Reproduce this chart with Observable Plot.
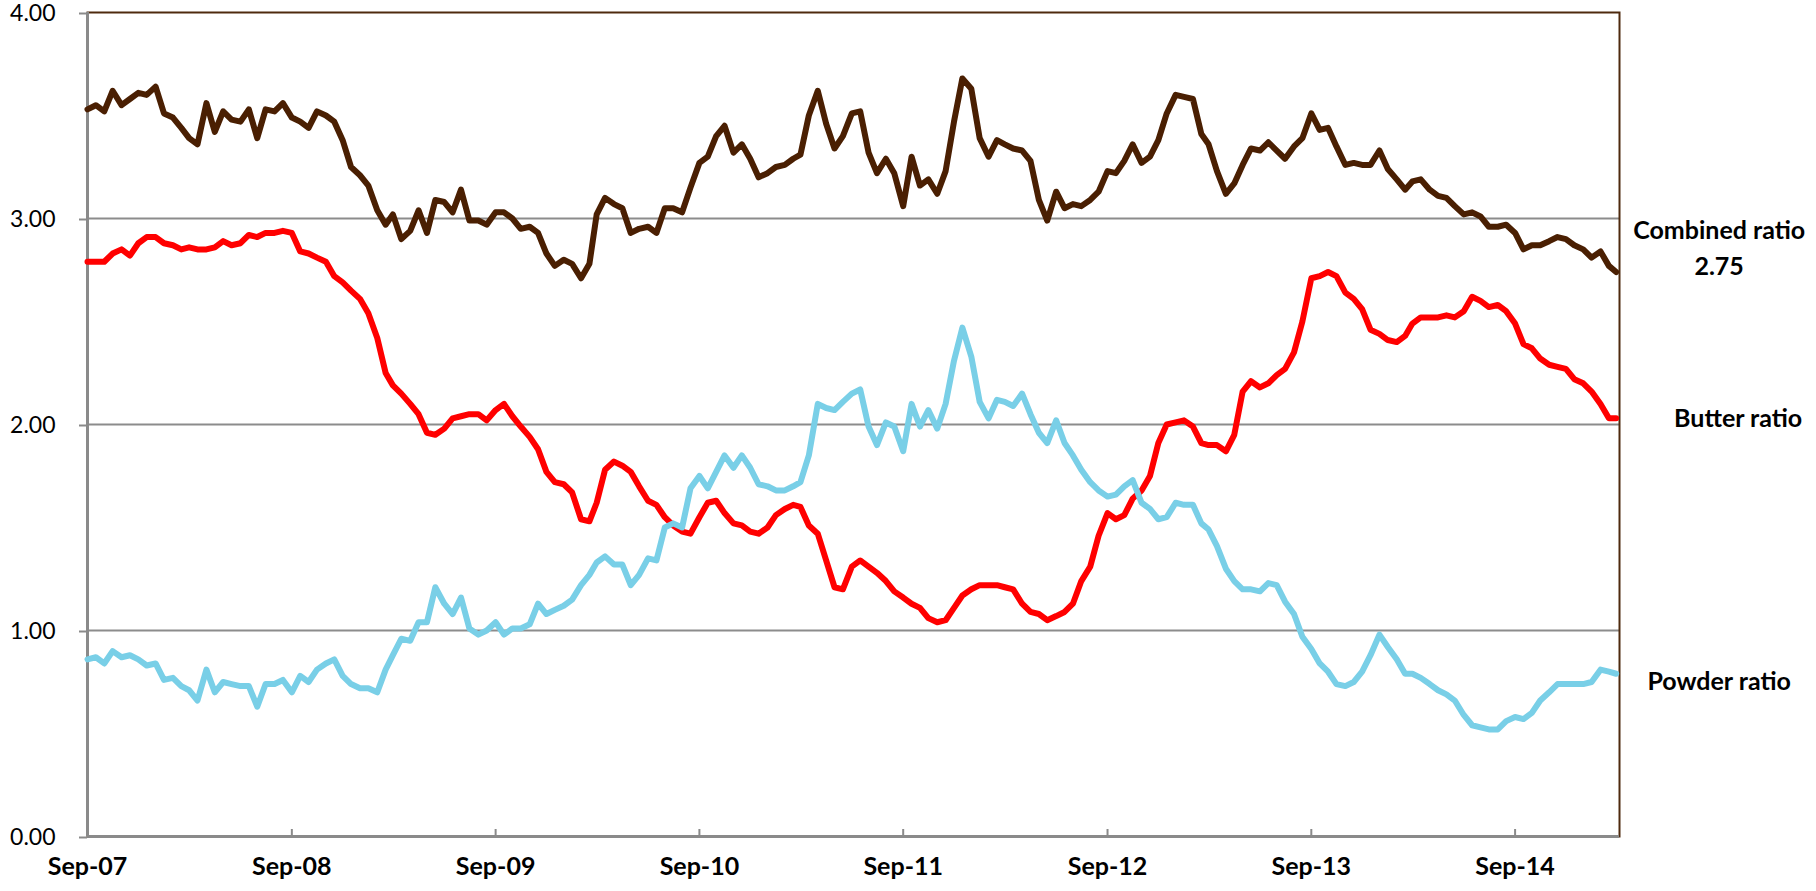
<!DOCTYPE html>
<html>
<head>
<meta charset="utf-8">
<script src="https://cdn.jsdelivr.net/npm/d3@7"></script>
<script src="https://cdn.jsdelivr.net/npm/@observablehq/plot@0.6"></script>
<style>
  html, body { margin: 0; padding: 0; background: #fff; }
  svg { display: block; }
</style>
</head>
<body>
<div id="chart"></div>
<script>
// ---- Data (half-monthly readings, starting 1 Sep 2007) ----
const seriesNames = ["Combined ratio", "Butter ratio", "Powder ratio"];
const endLabels = ["Combined ratio\n2.75", "Butter ratio", "Powder ratio"];
const yTickValues = [0, 1, 2, 3, 4];
const tickYears = [2007, 2008, 2009, 2010, 2011, 2012, 2013, 2014];

const combined = [
  3.53,3.55,3.52,3.62,3.55,3.58,3.61,3.60,3.64,3.51,3.49,3.44,3.39,3.36,3.56,3.42,3.52,3.48,3.47,3.53,3.39,3.53,3.52,3.56,
  3.49,3.47,3.44,3.52,3.50,3.47,3.38,3.25,3.21,3.16,3.04,2.97,3.02,2.90,2.94,3.04,2.93,3.09,3.08,3.03,3.14,2.99,2.99,2.97,
  3.03,3.03,3.00,2.95,2.96,2.93,2.83,2.77,2.80,2.78,2.71,2.78,3.02,3.10,3.07,3.05,2.93,2.95,2.96,2.93,3.05,3.05,3.03,3.15,
  3.27,3.30,3.40,3.45,3.32,3.36,3.29,3.20,3.22,3.25,3.26,3.29,3.31,3.50,3.62,3.46,3.34,3.40,3.51,3.52,3.32,3.22,3.29,3.22,
  3.06,3.30,3.16,3.19,3.12,3.23,3.47,3.68,3.63,3.39,3.30,3.38,3.36,3.34,3.33,3.28,3.09,2.99,3.13,3.05,3.07,3.06,3.09,3.13,
  3.23,3.22,3.28,3.36,3.27,3.30,3.38,3.51,3.60,3.59,3.58,3.41,3.36,3.23,3.12,3.17,3.26,3.34,3.33,3.37,3.33,3.29,3.35,3.39,
  3.51,3.43,3.44,3.35,3.26,3.27,3.26,3.26,3.33,3.24,3.19,3.14,3.18,3.19,3.14,3.11,3.10,3.06,3.02,3.03,3.01,2.96,2.96,2.97,
  2.93,2.85,2.87,2.87,2.89,2.91,2.90,2.87,2.85,2.81,2.84,2.77,2.74
];

const butter = [
  2.79,2.79,2.79,2.83,2.85,2.82,2.88,2.91,2.91,2.88,2.87,2.85,2.86,2.85,2.85,2.86,2.89,2.87,2.88,2.92,2.91,2.93,2.93,2.94,
  2.93,2.84,2.83,2.81,2.79,2.72,2.69,2.65,2.61,2.54,2.42,2.25,2.19,2.15,2.10,2.05,1.96,1.95,1.98,2.03,2.04,2.05,2.05,2.02,
  2.07,2.10,2.04,1.99,1.94,1.88,1.77,1.72,1.71,1.67,1.54,1.53,1.62,1.78,1.82,1.80,1.77,1.70,1.63,1.61,1.55,1.51,1.48,1.47,
  1.55,1.62,1.63,1.57,1.52,1.51,1.48,1.47,1.50,1.56,1.59,1.61,1.60,1.51,1.47,1.34,1.21,1.20,1.31,1.34,1.31,1.28,1.24,1.19,
  1.16,1.13,1.11,1.06,1.04,1.05,1.11,1.17,1.20,1.22,1.22,1.22,1.21,1.20,1.13,1.09,1.08,1.05,1.07,1.09,1.13,1.24,1.31,1.46,
  1.57,1.54,1.56,1.64,1.68,1.75,1.91,2.00,2.01,2.02,1.99,1.91,1.90,1.90,1.87,1.95,2.16,2.21,2.18,2.20,2.24,2.27,2.35,2.50,
  2.71,2.72,2.74,2.72,2.64,2.61,2.56,2.46,2.44,2.41,2.40,2.43,2.49,2.52,2.52,2.52,2.53,2.52,2.55,2.62,2.60,2.57,2.58,2.55,
  2.49,2.39,2.37,2.32,2.29,2.28,2.27,2.22,2.20,2.16,2.10,2.03,2.03
];

const powder = [
  0.86,0.87,0.84,0.90,0.87,0.88,0.86,0.83,0.84,0.76,0.77,0.73,0.71,0.66,0.81,0.70,0.75,0.74,0.73,0.73,0.63,0.74,0.74,0.76,
  0.70,0.78,0.75,0.81,0.84,0.86,0.78,0.74,0.72,0.72,0.70,0.81,0.88,0.96,0.95,1.04,1.04,1.21,1.13,1.08,1.16,1.01,0.98,1.00,
  1.04,0.98,1.01,1.01,1.03,1.13,1.08,1.10,1.12,1.15,1.22,1.27,1.33,1.36,1.32,1.32,1.22,1.27,1.35,1.34,1.50,1.52,1.50,1.69,
  1.75,1.69,1.77,1.85,1.79,1.85,1.79,1.71,1.70,1.68,1.68,1.70,1.72,1.85,2.10,2.08,2.07,2.11,2.15,2.17,1.99,1.90,2.01,1.99,
  1.87,2.10,1.99,2.07,1.98,2.10,2.31,2.47,2.33,2.11,2.03,2.12,2.11,2.09,2.15,2.05,1.96,1.91,2.02,1.91,1.85,1.78,1.72,1.68,
  1.65,1.66,1.70,1.73,1.62,1.59,1.54,1.55,1.62,1.61,1.61,1.52,1.49,1.41,1.30,1.24,1.20,1.20,1.19,1.23,1.22,1.14,1.08,0.97,
  0.91,0.84,0.80,0.74,0.73,0.75,0.80,0.88,0.98,0.92,0.86,0.79,0.79,0.77,0.74,0.71,0.69,0.66,0.59,0.54,0.53,0.52,0.52,0.56,
  0.58,0.57,0.60,0.66,0.70,0.74,0.74,0.74,0.74,0.75,0.81,0.80,0.79
];

// ---- Build table ----
const start = new Date(Date.UTC(2007, 8, 1));
const domainEnd = new Date(Date.UTC(2015, 2, 7));
const dateAt = i => {
  const d = d3.utcMonth.offset(start, Math.floor(i / 2));
  return i % 2 ? d3.utcDay.offset(d, 15) : d;
};
const seriesValues = [combined, butter, powder];
const rows = [];
seriesValues.forEach((vals, s) => {
  vals.forEach((v, i) => rows.push({series: seriesNames[s], date: dateAt(i), value: v}));
});
const tickDates = tickYears.map(y => new Date(Date.UTC(y, 8, 1)));
const lastRows = seriesValues.map((vals, s) => ({
  series: seriesNames[s], date: dateAt(vals.length - 1), value: vals[vals.length - 1], label: endLabels[s]
}));

const colors = ["#4a1f02", "#ff0000", "#79cfe7"];
const labelOffsets = [{dx: 103, dy: -27}, {dx: 122, dy: -3}, {dx: 103, dy: 5}];

const chart = Plot.plot({
  width: 1816,
  height: 891,
  marginLeft: 87,
  marginRight: 197,
  marginTop: 12,
  marginBottom: 55,
  style: {fontFamily: "Lato, sans-serif", fontSize: "24px", color: "#000", background: "#fff"},
  x: {type: "utc", domain: [start, domainEnd], axis: null},
  y: {domain: [0, 4], axis: null},
  color: {domain: seriesNames, range: colors},
  marks: [
    Plot.ruleY([1, 2, 3], {stroke: "#8c8c8c", strokeWidth: 2}),
    Plot.frame({stroke: "#4e2a0e", strokeWidth: 2}),
    Plot.ruleY([0], {stroke: "#8a8a8a", strokeWidth: 3}),
    Plot.ruleX([start], {stroke: "#8a8a8a", strokeWidth: 3}),
    Plot.lineY(rows, {x: "date", y: "value", z: "series", stroke: "series", strokeWidth: 6,
      strokeLinejoin: "round", strokeLinecap: "round"}),
    Plot.axisY({ticks: yTickValues, tickFormat: d3.format(".2f"), tickSize: 8, tickPadding: 24,
      stroke: "#8a8a8a", strokeWidth: 2, fill: "#000", fontSize: 23, dy: 1, label: null}),
    Plot.axisX({ticks: tickDates, tickSize: 7, dy: -7, tickFormat: () => "", stroke: "#8a8a8a", strokeWidth: 2, label: null}),
    Plot.axisX({ticks: tickDates, tickFormat: d3.utcFormat("%b-%y"), tickSize: 0, tickPadding: 21,
      fontWeight: "bold", fontSize: 25, fill: "#000", label: null}),
    ...lastRows.map((r, s) => Plot.text([r], {x: "date", y: "value", text: "label",
      dx: labelOffsets[s].dx, dy: labelOffsets[s].dy, textAnchor: "middle", lineHeight: 1.44,
      fontWeight: "bold", fontSize: 25, fill: "#000"}))
  ]
});
document.getElementById("chart").appendChild(chart);
</script>
</body>
</html>
